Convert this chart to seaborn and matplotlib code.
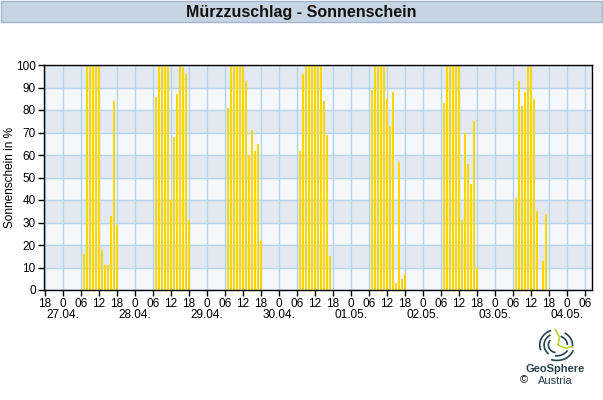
import numpy as np
import pandas as pd
import matplotlib
matplotlib.use("Agg")
import matplotlib.pyplot as plt
import matplotlib.patches as mpatches
import seaborn as sns

# ---- data (sunshine % per hour, hours 07..18 of each day) ----
hours = [7, 8, 9, 10, 11, 12, 13, 14, 15, 16, 17, 18]
day_labels = ["27.04.", "28.04.", "29.04.", "30.04.", "01.05.", "02.05.", "03.05.", "04.05."]
sun_2704 = [16, 100, 100, 100, 100, 100, 18, 11, 11, 33, 84, 29]
sun_2804 = [86, 100, 100, 100, 100, 40, 68, 87, 100, 99, 96, 31]
sun_2904 = [81, 100, 100, 100, 100, 100, 93, 60, 71, 62, 65, 22]
sun_3004 = [62, 96, 100, 100, 100, 100, 100, 100, 84, 69, 15, 0]
sun_0105 = [89, 100, 100, 100, 100, 85, 73, 88, 3, 57, 5, 7]
sun_0205 = [83, 100, 100, 100, 100, 100, 31, 70, 56, 47, 75, 10]
sun_0305 = [41, 93, 82, 88, 100, 100, 85, 35, 0, 13, 34, 0]
days = [sun_2704, sun_2804, sun_2904, sun_3004, sun_0105, sun_0205, sun_0305]
hour_tick_labels = ["18", "0", "06", "12"]
y_ticks = [0, 10, 20, 30, 40, 50, 60, 70, 80, 90, 100]

# time axis: hours since 26.04. 18:00
rows = []
for d, vals in enumerate(days):
    for hh, v in zip(hours, vals):
        rows.append({"t": 6 + 24 * d + hh, "v": v})
df = pd.DataFrame(rows)

sns.set_theme(style="white")
plt.rcParams["font.family"] = ["Liberation Sans", "DejaVu Sans"]

fig = plt.figure(figsize=(6.03, 4.00), dpi=100)
W, H = 603, 400
ax = fig.add_axes([44 / W, 1 - 290 / H, (592 - 44) / W, (290 - 65) / H])

ax.set_facecolor("#f5f7fa")
for lo in range(10, 100, 20):
    ax.axhspan(lo, lo + 10, color="#e4e9f1", zorder=0.1, lw=0)

sns.barplot(data=df, x="t", y="v", native_scale=True, width=0.72,
            color="#ffd700", saturation=1, errorbar=None, ax=ax, zorder=3,
            edgecolor="none", linewidth=0)

ax.set_xlim(-0.33, 182.33)
ax.set_ylim(0, 100)
xt = np.arange(0, 181, 6)
ax.set_xticks(xt)
ax.set_xticklabels([hour_tick_labels[i % 4] for i in range(len(xt))])
ax.set_yticks(y_ticks)
ax.set_yticklabels([str(v) for v in y_ticks])
ax.grid(True, color="#b3d6ee", lw=1, zorder=0.5)
ax.set_axisbelow(False)
for gl in ax.get_xgridlines() + ax.get_ygridlines():
    gl.set_zorder(0.5)

for s in ax.spines.values():
    s.set_visible(True)
    s.set_color("black")
    s.set_linewidth(1.0)
    s.set_zorder(5)

ax.tick_params(axis="both", which="both", direction="out", length=4, width=1,
               color="black", labelsize=8.5, labelcolor="black", pad=2,
               bottom=True, left=True)
ax.set_xlabel("")
ax.set_ylabel("")
fig.text(10 / W, 1 - 177 / H, "Sonnenschein in %", rotation=90, ha="center",
         va="center", fontsize=8.5, color="black")

xtr = ax.get_xaxis_transform()
for d, lab in enumerate(day_labels):
    ax.text(6 + 24 * d, -0.113, lab, transform=xtr, ha="center", va="center",
            fontsize=8.5, color="black")

# title bar
fig.patches.append(mpatches.Rectangle((1 / W, 1 - 22 / H), 601 / W, 21 / H,
                                      transform=fig.transFigure,
                                      facecolor="#c6d4e1", edgecolor="#9fb6cc",
                                      lw=1))
fig.text(0.5, 1 - 12 / H, "Mürzzuschlag - Sonnenschein", ha="center",
         va="center", fontsize=11.5, fontweight="bold", color="#111111")

# logo
lax = fig.add_axes([538 / W, 1 - 362 / H, 38 / W, 34 / H])
lax.set_xlim(-1.1, 1.1)
lax.set_ylim(-1.1, 1.1)
lax.axis("off")
teal = "#26434f"
for r, a1, a2 in [(1.0, 110, 200), (0.75, 120, 230), (0.5, 140, 260),
                  (1.0, 250, 340), (0.7, 260, 330), (0.9, -10, 60), (0.6, 0, 70)]:
    lax.add_patch(mpatches.Arc((0, 0), 2 * r, 2 * r, theta1=a1, theta2=a2,
                               color=teal, lw=1.2))
lax.plot([-0.1, 0.15, 0.05, 0.5, 0.9], [1.0, 0.5, 0.0, -0.2, -0.1],
         color="#b8d432", lw=1.2)
fig.text(555 / W, 1 - 369 / H, "GeoSphere", ha="center", va="center",
         fontsize=8, fontweight="bold", color=teal)
fig.text(555 / W, 1 - 381 / H, "Austria", ha="center", va="center",
         fontsize=8, color=teal)
fig.text(524 / W, 1 - 380 / H, "©", ha="center", va="center",
         fontsize=8, color="black")

fig.savefig("out.png", dpi=100)
